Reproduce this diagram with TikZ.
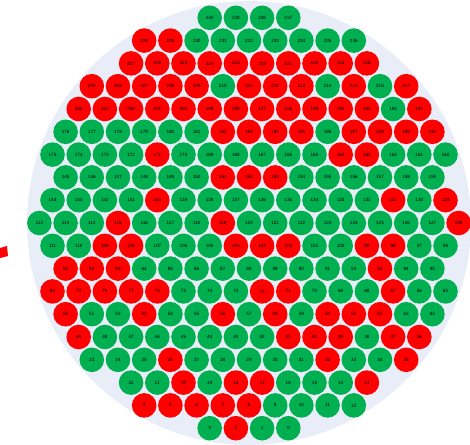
\documentclass[tikz,border=0pt]{standalone}
\usepackage{fontspec}
\setmainfont{Liberation Sans}
\definecolor{rd}{RGB}{255,0,0}
\definecolor{gn}{RGB}{0,176,80}
\definecolor{bgc}{RGB}{232,237,248}
\tikzset{fuelpin/.style={circle,minimum size=24.6pt,inner sep=0pt,text=black,font=\fontsize{4.6}{5}\selectfont}}
\newcommand\fuelrow[3]{%
  \foreach \n/\c [count=\i from 0] in {#3}{%
    \node[fuelpin,fill=\c] (p\n) at ({249+(#2+2*\i)*13.1},{223+(#1-9)*22.8}) {\n};
  }}
\begin{document}
\begin{tikzpicture}[x=1pt,y=-1pt]
\useasboundingbox (0,0) rectangle (470,444);
\fill[bgc] (249,223) circle (222);
\fill[rd] (0,248) -- (7,246) -- (8,256) -- (0,258) -- cycle;
\fuelrow{0}{-3}{240/gn,239/gn,238/gn,237/gn}
\fuelrow{1}{-8}{228/rd,229/rd,230/gn,231/gn,232/gn,233/gn,234/gn,235/gn,236/gn}
\fuelrow{2}{-9}{227/rd,226/rd,225/rd,224/rd,223/rd,222/rd,221/rd,220/rd,219/rd,218/rd}
\fuelrow{3}{-12}{205/rd,206/rd,207/rd,208/rd,209/rd,210/gn,211/rd,212/rd,213/rd,214/gn,215/rd,216/gn,217/rd}
\fuelrow{4}{-13}{204/rd,203/rd,202/rd,201/rd,200/rd,199/rd,198/rd,197/rd,196/rd,195/rd,194/rd,193/rd,192/gn,191/rd}
\fuelrow{5}{-14}{176/gn,177/gn,178/gn,179/gn,180/gn,181/gn,182/rd,183/rd,184/rd,185/rd,186/gn,187/rd,188/rd,189/rd,190/rd}
\fuelrow{6}{-15}{175/gn,174/gn,173/gn,172/gn,171/rd,170/gn,169/gn,168/gn,167/gn,166/gn,165/gn,164/rd,163/rd,162/gn,161/gn,160/gn}
\fuelrow{7}{-14}{145/gn,146/gn,147/gn,148/gn,149/gn,150/gn,151/rd,152/rd,153/rd,154/gn,155/gn,156/gn,157/gn,158/gn,159/gn}
\fuelrow{8}{-15}{144/gn,143/gn,142/gn,141/gn,140/rd,139/gn,138/gn,137/gn,136/gn,135/gn,134/gn,133/gn,132/gn,131/rd,130/gn,129/rd}
\fuelrow{9}{-16}{112/gn,113/gn,114/gn,115/rd,116/gn,117/gn,118/gn,119/rd,120/gn,121/gn,122/gn,123/gn,124/gn,125/gn,126/gn,127/gn,128/rd}
\fuelrow{10}{-15}{111/gn,110/gn,109/rd,108/rd,107/gn,106/gn,105/gn,104/rd,103/rd,102/rd,101/gn,100/gn,99/rd,98/rd,97/gn,96/gn}
\fuelrow{11}{-14}{81/rd,82/rd,83/rd,84/gn,85/gn,86/gn,87/gn,88/gn,89/gn,90/gn,91/gn,92/gn,93/rd,94/gn,95/gn}
\fuelrow{12}{-15}{80/rd,79/rd,78/rd,77/rd,76/rd,75/gn,74/gn,73/gn,72/rd,71/rd,70/gn,69/gn,68/gn,67/rd,66/gn,65/gn}
\fuelrow{13}{-14}{50/rd,51/gn,52/gn,53/rd,54/gn,55/gn,56/rd,57/gn,58/rd,59/gn,60/rd,61/rd,62/rd,63/gn,64/gn}
\fuelrow{14}{-13}{49/rd,48/gn,47/gn,46/gn,45/gn,44/gn,43/gn,42/gn,41/rd,40/rd,39/rd,38/gn,37/rd,36/rd}
\fuelrow{15}{-12}{23/gn,24/gn,25/gn,26/rd,27/gn,28/gn,29/gn,30/gn,31/gn,32/rd,33/gn,34/gn,35/rd}
\fuelrow{16}{-9}{22/gn,21/gn,20/rd,19/gn,18/rd,17/rd,16/gn,15/gn,14/gn,13/rd}
\fuelrow{17}{-8}{4/rd,5/rd,6/rd,7/rd,8/rd,9/gn,10/gn,11/gn,12/gn}
\fuelrow{18}{-3}{3/gn,2/rd,1/gn,0/gn}
\end{tikzpicture}
\end{document}
